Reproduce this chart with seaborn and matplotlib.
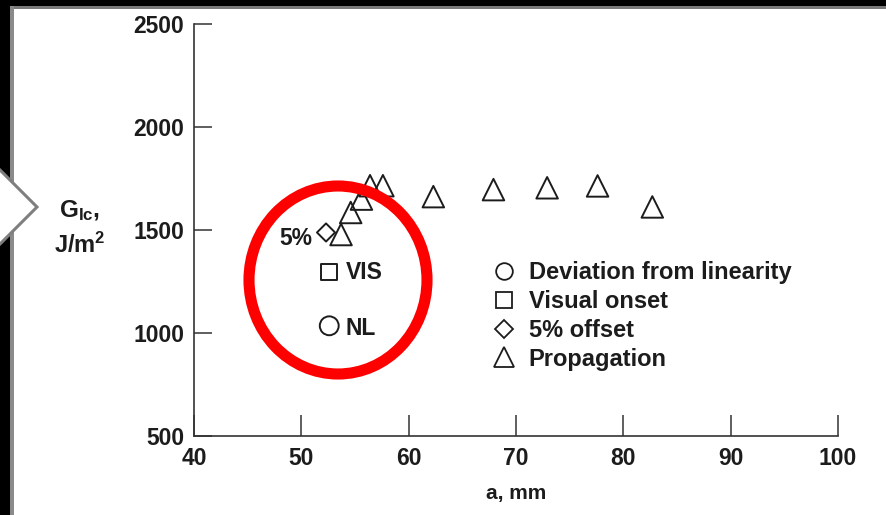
import matplotlib
matplotlib.use("Agg")
import matplotlib.pyplot as plt
import seaborn as sns
from matplotlib.lines import Line2D
from matplotlib.patches import Rectangle, Ellipse, Polygon

# crack length a (mm) and fracture toughness G_Ic (J/m^2)
prop_a = [53.7, 54.6, 55.6, 56.4, 57.6, 62.3, 67.9, 72.9, 77.6, 82.7]
prop_g = [1478, 1585, 1650, 1715, 1715, 1662, 1696, 1705, 1714, 1612]
off_a = [52.3]
off_g = [1488]
vis_a = [52.6]
vis_g = [1295]
nl_a = [52.6]
nl_g = [1035]

xticks = [40, 50, 60, 70, 80, 90, 100]
yticks = [500, 1000, 1500, 2000, 2500]
legend_labels = ["Deviation from linearity", "Visual onset", "5% offset", "Propagation"]

sns.set_style("ticks")
plt.rcParams["font.family"] = ["Liberation Sans", "DejaVu Sans"]
plt.rcParams["font.weight"] = "bold"
plt.rcParams["mathtext.fontset"] = "custom"
plt.rcParams["mathtext.rm"] = "Liberation Sans:bold"
plt.rcParams["mathtext.it"] = "Liberation Sans:bold"

W, H = 886, 515
fig = plt.figure(figsize=(W / 100, H / 100), dpi=100)
fig.patch.set_facecolor("white")

def fx(px):
    return px / W

def fy(py):
    return 1 - py / H

ax = fig.add_axes([fx(194), fy(436), (838 - 194) / W, (436 - 24) / H])
ax.set_facecolor("none")

ink = "#1c1c1c"
mk = dict(facecolor="none", edgecolor=ink, linewidth=1.4, legend=False, ax=ax, zorder=3)
sns.scatterplot(x=prop_a, y=prop_g, marker="^", s=240, **mk)
sns.scatterplot(x=off_a, y=off_g, marker="D", s=85, **mk)
sns.scatterplot(x=vis_a, y=vis_g, marker="s", s=140, **mk)
sns.scatterplot(x=nl_a, y=nl_g, marker="o", s=185, **mk)

ax.annotate("5%", (off_a[0], off_g[0]), xytext=(-10, -4), textcoords="offset points",
            ha="right", va="center", fontsize=16.5, fontweight="bold", color=ink)
ax.annotate("VIS", (vis_a[0], vis_g[0]), xytext=(12, 0), textcoords="offset points",
            ha="left", va="center", fontsize=16.5, fontweight="bold", color=ink)
ax.annotate("NL", (nl_a[0], nl_g[0]), xytext=(12, -2), textcoords="offset points",
            ha="left", va="center", fontsize=16.5, fontweight="bold", color=ink)

ax.set_xlim(40, 100)
ax.set_ylim(500, 2500)
ax.set_xticks(xticks)
ax.set_yticks(yticks)
ax.set_xticklabels([str(t) for t in xticks], fontsize=16.5, fontweight="bold", color=ink)
ax.set_yticklabels([str(t) for t in yticks], fontsize=16.5, fontweight="bold", color=ink)
ax.tick_params(axis="x", direction="in", length=15, width=1.1, color="#333333", pad=8)
ax.tick_params(axis="y", direction="in", length=13, width=1.1, color="#333333", pad=7)
for side in ["top", "right"]:
    ax.spines[side].set_visible(False)
for side in ["left", "bottom"]:
    ax.spines[side].set_linewidth(1.2)
    ax.spines[side].set_color("#333333")

handles = [
    Line2D([], [], ls="none", marker="o", ms=12, mfc="none", mec=ink, mew=1.3),
    Line2D([], [], ls="none", marker="s", ms=11, mfc="none", mec=ink, mew=1.3),
    Line2D([], [], ls="none", marker="D", ms=9, mfc="none", mec=ink, mew=1.3),
    Line2D([], [], ls="none", marker="^", ms=14, mfc="none", mec=ink, mew=1.3),
]
leg = ax.legend(handles, legend_labels, loc="upper left",
                bbox_to_anchor=((492 - 194) / 644, (436 - 261) / 412),
                frameon=False, borderpad=0, borderaxespad=0, handlelength=1.0,
                handletextpad=0.55, labelspacing=0.25, prop=dict(size=17, weight="bold"))
for t in leg.get_texts():
    t.set_color(ink)

fig.text(fx(80), fy(211), r"G$_{\rm Ic}$,", ha="center", va="center", fontsize=17.5,
         fontweight="bold", color=ink)
fig.text(fx(80), fy(245), r"J/m$^{\rm 2}$", ha="center", va="center", fontsize=17,
         fontweight="bold", color=ink)
fig.text(fx(516), fy(494), "a, mm", ha="center", va="center", fontsize=15,
         fontweight="bold", color=ink)

# red highlight ring
fig.patches.append(Ellipse((fx(338), fy(280)), 178 / W, 188 / H, transform=fig.transFigure,
                           fill=False, edgecolor="#ff0000", linewidth=8, zorder=10))

# slide frame: dark band top and left with a grey edge
fig.patches.append(Rectangle((0, fy(9)), 1, 9 / H, transform=fig.transFigure,
                             facecolor="#7a7a7a", edgecolor="none", zorder=11))
fig.patches.append(Rectangle((0, fy(6)), 1, 6 / H, transform=fig.transFigure,
                             facecolor="black", edgecolor="none", zorder=12))
fig.patches.append(Rectangle((0, 0), 14 / W, 1, transform=fig.transFigure,
                             facecolor="#8a8a8a", edgecolor="none", zorder=11))
fig.patches.append(Rectangle((0, 0), 10 / W, 1, transform=fig.transFigure,
                             facecolor="black", edgecolor="none", zorder=12))
fig.patches.append(Polygon([(fx(-5), fy(165)), (fx(37), fy(207)), (fx(-5), fy(249))],
                           closed=False, transform=fig.transFigure, facecolor="white",
                           edgecolor="#7f7f7f", linewidth=2.2, zorder=13))

fig.savefig("out.png", dpi=100)
